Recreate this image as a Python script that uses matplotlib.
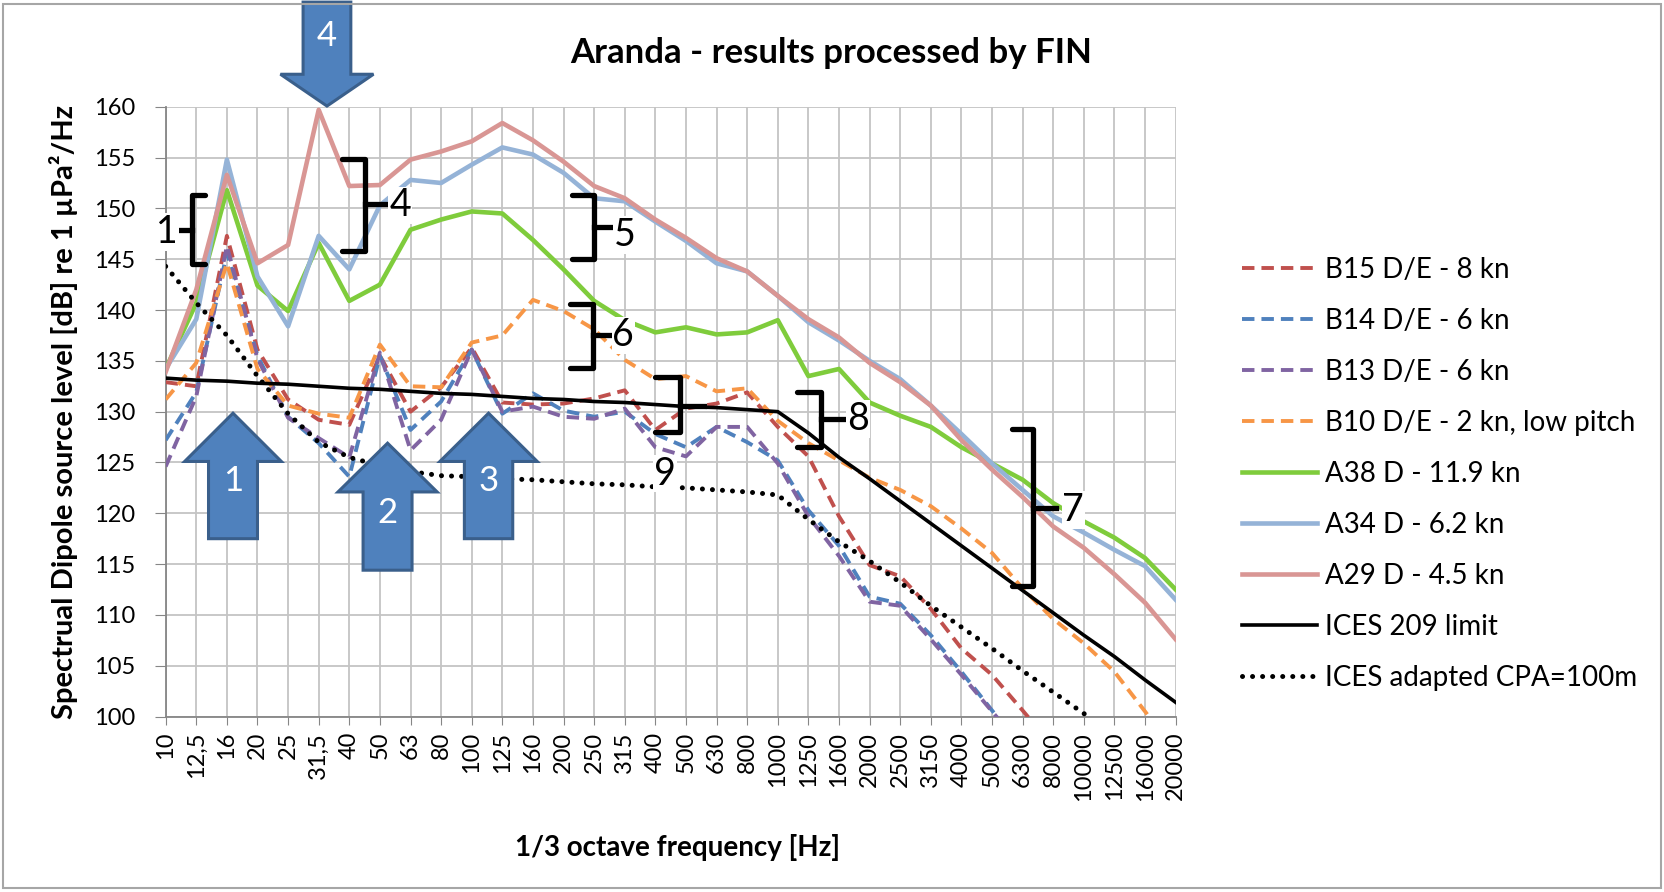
import matplotlib
matplotlib.use("Agg")
import matplotlib.pyplot as plt
from matplotlib.patches import Polygon, Rectangle
import numpy as np

plt.rcParams['font.family'] = ['Lato', 'DejaVu Sans']

freqs = ["10", "12,5", "16", "20", "25", "31,5", "40", "50", "63", "80", "100", "125",
         "160", "200", "250", "315", "400", "500", "630", "800", "1000", "1250", "1600",
         "2000", "2500", "3150", "4000", "5000", "6300", "8000", "10000", "12500",
         "16000", "20000"]

# spectral levels, dB re 1 uPa^2/Hz (None = off the chart)
b15 = [132.9, 132.5, 147.3, 136.1, 131.2, 129.2, 128.7, 135.5, 130.0, 132.4, 136.3, 130.9,
       130.7, 130.8, 131.3, 132.1, 128.2, 130.3, 130.8, 131.9, 128.5, 125.6, 119.7, 114.9,
       113.8, 110.6, 106.7, 104.1, 100.6, 97.0, None, None, None, None]
b14 = [127.2, 131.9, 145.6, 135.5, 129.5, 126.9, 123.6, 135.5, 128.2, 131.0, 136.1, 129.8,
       131.8, 130.1, 129.5, 130.0, 127.8, 126.5, 128.5, 127.0, 125.2, 120.3, 116.8, 111.8,
       111.1, 108.0, 104.4, 100.6, 97.0, None, None, None, None, None]
b13 = [124.6, 131.5, 146.3, 135.2, 129.4, 127.4, 125.5, 135.8, 126.2, 129.2, 136.1, 130.0,
       130.5, 129.5, 129.3, 130.3, 126.5, 125.6, 128.5, 128.5, 124.9, 119.7, 115.8, 111.3,
       110.9, 107.6, 104.1, 100.5, 97.0, None, None, None, None, None]
b10 = [131.2, 134.8, 144.6, 134.2, 130.6, 129.8, 129.4, 136.6, 132.5, 132.4, 136.8, 137.5,
       141.0, 139.9, 138.1, 135.1, 133.2, 133.5, 132.0, 132.3, 129.1, 126.9, 125.2, 123.5,
       122.3, 120.7, 118.5, 116.1, 112.6, 109.6, 107.2, 104.4, 100.5, 96.5]
a38 = [134.2, 140.7, 151.8, 142.4, 139.9, 146.6, 140.9, 142.5, 147.9, 148.9, 149.7, 149.5,
       146.9, 144.0, 140.9, 139.0, 137.8, 138.3, 137.6, 137.8, 139.0, 133.5, 134.2, 130.9,
       129.6, 128.5, 126.5, 124.9, 123.3, 121.0, 119.2, 117.6, 115.6, 112.5]
a34 = [134.2, 139.1, 154.8, 143.3, 138.4, 147.3, 144.0, 150.3, 152.8, 152.5, 154.3, 156.0,
       155.3, 153.5, 151.0, 150.7, 148.7, 146.8, 144.6, 143.8, 141.4, 138.8, 137.0, 135.0,
       133.2, 130.6, 127.8, 124.9, 122.3, 119.7, 118.1, 116.4, 114.8, 111.5]
a29 = [133.9, 142.0, 153.3, 144.6, 146.4, 159.7, 152.2, 152.3, 154.8, 155.6, 156.6, 158.4,
       156.7, 154.6, 152.2, 151.0, 148.9, 147.1, 145.1, 143.8, 141.4, 139.1, 137.3, 134.8,
       132.9, 130.6, 127.2, 124.3, 121.6, 118.7, 116.6, 114.0, 111.2, 107.6]
ices209 = [133.3, 133.1, 133.0, 132.8, 132.7, 132.5, 132.3, 132.2, 132.0, 131.8, 131.7, 131.5,
           131.3, 131.2, 131.0, 130.9, 130.7, 130.5, 130.4, 130.2, 130.0, 127.9, 125.5, 123.4,
           121.2, 119.0, 116.8, 114.6, 112.4, 110.2, 108.0, 105.9, 103.6, 101.4]
ices_cpa = [144.3, 140.7, 137.5, 133.5, 129.8, 127.0, 125.5, 124.7, 124.1, 123.7, 123.6, 123.4,
            123.3, 123.1, 122.9, 122.8, 122.6, 122.5, 122.3, 122.1, 121.8, 119.4, 117.2, 115.3,
            113.2, 110.9, 108.8, 106.7, 104.5, 102.4, 100.3, 98.0, None, None]

series = [
    ("B15 D/E - 8 kn", b15, "#C0504D", "dash"),
    ("B14 D/E - 6 kn", b14, "#4F81BD", "dash"),
    ("B13 D/E - 6 kn", b13, "#8064A2", "dash"),
    ("B10 D/E - 2 kn, low pitch", b10, "#F79646", "dash"),
    ("A38 D - 11.9 kn", a38, "#7FCC3C", "solid"),
    ("A34 D - 6.2 kn", a34, "#95B3D7", "solid"),
    ("A29 D - 4.5 kn", a29, "#D99694", "solid"),
    ("ICES 209 limit", ices209, "black", "limit"),
    ("ICES adapted CPA=100m", ices_cpa, "black", "dot"),
]

fig = plt.figure(figsize=(16.65, 8.92), dpi=100)
ax = fig.add_axes([0.0995, 0.1967, 0.6066, 0.6836])

x = np.arange(len(freqs))
for name, vals, col, kind in series:
    y = np.array(vals, dtype=float)
    if kind == "dash":
        ax.plot(x, y, color=col, lw=2.8, linestyle=(0, (3.2, 1.8)), label=name, zorder=3)
    elif kind == "solid":
        ax.plot(x, y, color=col, lw=3.3, label=name, zorder=3, solid_joinstyle="round")
    elif kind == "limit":
        ax.plot(x, y, color=col, lw=2.6, label=name, zorder=4)
    else:
        ax.plot(x, y, color=col, lw=3.6, linestyle=(0, (0.01, 2.0)), dash_capstyle="round",
                label=name, zorder=4)

ax.set_xlim(0, len(freqs) - 1)
ax.set_ylim(100, 160)
ax.set_yticks(np.arange(100, 161, 5))
ax.set_xticks(x)
ax.set_xticklabels(freqs, rotation=90, fontsize=17)
ax.tick_params(axis="y", labelsize=17, length=8, color="#868686", pad=14)
ax.tick_params(axis="x", length=6, color="#868686", pad=5)
ax.grid(True, color="#C4C4C4", lw=1.3)
ax.set_axisbelow(True)
for side in ["top", "right"]:
    ax.spines[side].set_visible(False)
for side in ["left", "bottom"]:
    ax.spines[side].set_color("#868686")
    ax.spines[side].set_linewidth(1.3)


# block arrows: centre, half head width, half shaft width, tip, head base, end, label y
arrows = [
    ("1", 2.2, 1.58, 0.80, 129.85, 125.1, 117.5, 123.2),
    ("2", 7.25, 1.62, 0.80, 126.9, 122.1, 114.4, 120.0),
    ("3", 10.55, 1.59, 0.79, 129.85, 125.1, 117.5, 123.2),
    ("4", 5.27, 1.52, 0.78, 160.07, 163.2, 170.3, 167.0),
]
for lab, xc, hh, hs, yt, yb, ye, ly in arrows:
    pts = [(xc, yt), (xc + hh, yb), (xc + hs, yb), (xc + hs, ye),
           (xc - hs, ye), (xc - hs, yb), (xc - hh, yb)]
    ax.add_patch(Polygon(pts, closed=True, fc="#4F81BD", ec="#3A5F8B", lw=2.2,
                         clip_on=False, zorder=6))
    ax.text(xc, ly, lab, color="white", fontsize=25, ha="center", va="center",
            zorder=7, clip_on=False)

# brackets: open end x, spine x, top, bottom, tick y, tick end x, label, label x, label y
braces = [
    (1.28, 0.85, 151.3, 144.5, 147.9, 0.47, "1", 0.05, 147.7),
    (5.75, 6.50, 154.9, 145.8, 150.4, 7.26, "4", 7.66, 150.3),
    (13.27, 14.0, 151.3, 145.0, 148.2, 14.58, "5", 15.0, 147.4),
    (13.21, 13.95, 140.6, 134.3, 137.5, 14.5, "6", 14.95, 137.5),
    (16.0, 16.8, 133.4, 128.0, 130.6, 17.6, "9", 16.32, 123.9),
    (20.62, 21.4, 131.9, 126.5, 129.3, 22.2, "8", 22.62, 129.3),
    (27.65, 28.35, 128.3, 112.85, 120.5, 29.1, "7", 29.65, 120.3),
]
for xo, xs, yt, yb, ym, xt, lab, lx, ly in braces:
    ax.plot([xo, xs, xs, xo], [yt, yt, yb, yb], color="black", lw=3.8,
            solid_joinstyle="round", solid_capstyle="round", zorder=8, clip_on=False)
    ax.plot([xs, xt], [ym, ym], color="black", lw=3.8, zorder=8, clip_on=False)
    ax.text(lx, ly, lab, fontsize=27, ha="center", va="center", zorder=9, clip_on=False,
            bbox=dict(facecolor="white", edgecolor="none", pad=0.5))

leg = ax.legend(loc="center left", bbox_to_anchor=(0.746, 0.4686),
                bbox_transform=fig.transFigure, frameon=False, fontsize=20,
                handlelength=2.7, handletextpad=0.3, labelspacing=0.9,
                borderpad=0, borderaxespad=0)

fig.text(0.4994, 0.9406, "Aranda - results processed by FIN", fontsize=25,
         fontweight="bold", ha="center", va="center")
fig.text(0.038, 0.5387, "Spectrual Dipole source level [dB] re 1 µPa²/Hz", fontsize=21,
         fontweight="bold", rotation=90, ha="center", va="center")
fig.text(0.4072, 0.0504, "1/3 octave frequency [Hz]", fontsize=20, fontweight="bold",
         ha="center", va="center")

fig.patches.append(Rectangle((3 / 1665, 4 / 892), 1658 / 1665, 884 / 892,
                             transform=fig.transFigure, fill=False, ec="#A6A6A6", lw=1.5))

fig.savefig("out.png", dpi=100, facecolor="white")
